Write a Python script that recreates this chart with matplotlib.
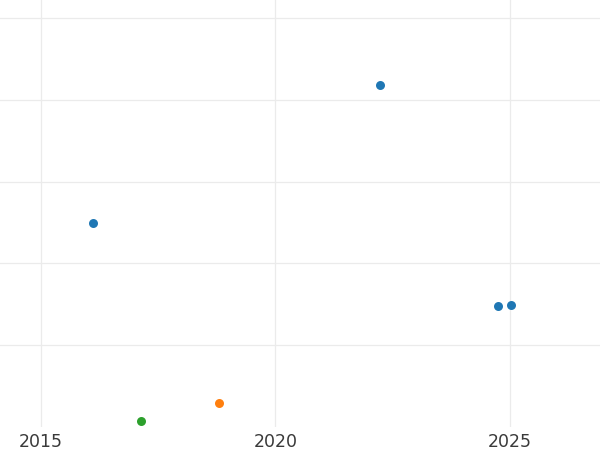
import matplotlib
matplotlib.use("Agg")
import matplotlib.pyplot as plt

blue_x = [2016.11, 2022.22, 2024.75, 2025.02]
blue_y = [2.50, 4.18, 1.48, 1.49]
orange_x = [2018.80]
orange_y = [0.30]
green_x = [2017.13]
green_y = [0.07]

xticks = [2015, 2020, 2025]
yticks = [1, 2, 3, 4, 5]

fig = plt.figure(figsize=(6, 4.5), dpi=100)
ax = fig.add_axes([0, 0.051, 1, 0.949])
ax.set_xlim(2014.126, 2026.92)
ax.set_ylim(0, 5.22)
ax.set_xticks(xticks)
ax.set_xticklabels([str(t) for t in xticks])
ax.set_yticks(yticks)
ax.set_yticklabels([])
ax.grid(True, color="#ebebeb", linewidth=0.9)
ax.set_axisbelow(True)
for s in ax.spines.values():
    s.set_visible(False)
ax.tick_params(length=0, labelsize=12.5, labelcolor="#3a3a3a", pad=4)

ax.scatter(blue_x, blue_y, s=42, color="#1f77b4", zorder=3, linewidths=0)
ax.scatter(orange_x, orange_y, s=42, color="#ff7f0e", zorder=3, linewidths=0)
ax.scatter(green_x, green_y, s=42, color="#2ca02c", zorder=3, linewidths=0)

fig.savefig("out.png", dpi=100)
